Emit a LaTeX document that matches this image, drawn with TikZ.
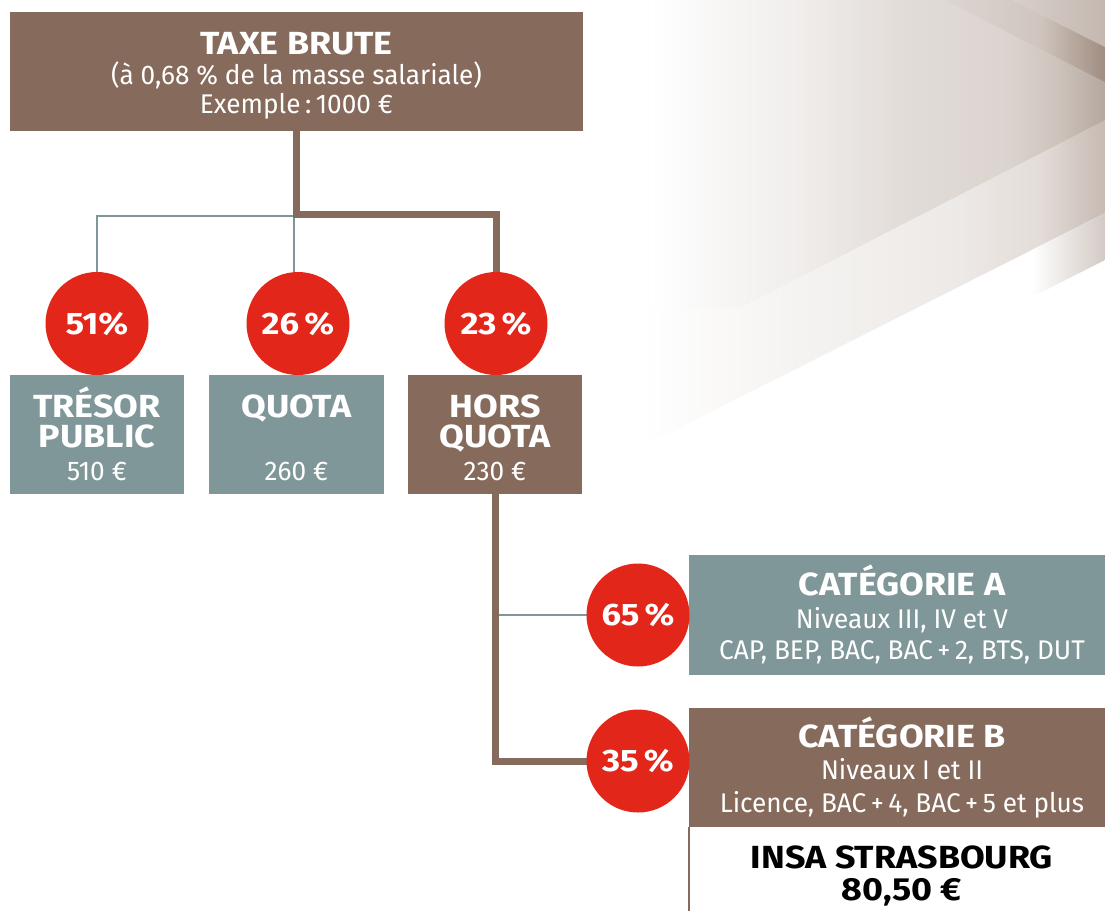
\documentclass[tikz,border=0pt]{standalone}
\usepackage{fontspec}
\setmainfont{Fira Sans}
\newfontfamily\rgfont{Fira Sans}[FakeStretch=0.97]
\newfontfamily\bdfont{Fira Sans}[FakeStretch=1.12]
\definecolor{brownc}{HTML}{866B5C}
\definecolor{grayc}{HTML}{7F9799}
\definecolor{redc}{HTML}{E3261A}
% band A
\definecolor{aA}{HTML}{F5F3F1}
\definecolor{aB}{HTML}{EDE9E6}
\definecolor{aC}{HTML}{E3DCD8}
\definecolor{aD}{HTML}{C6BAB2}
% region B
\definecolor{bA}{HTML}{F0EDEB}
\definecolor{bB}{HTML}{E2DCD8}
\definecolor{bC}{HTML}{DBD3CE}
\definecolor{bD}{HTML}{CCC2BB}
\definecolor{bE}{HTML}{B4A79E}
% stripes
\definecolor{sA}{HTML}{DDD6D1}
\definecolor{sB}{HTML}{CFC5BE}
\definecolor{sC}{HTML}{A08C80}
\definecolor{kA}{HTML}{D8D0CB}
\definecolor{kB}{HTML}{C4B8B0}
\definecolor{dA}{HTML}{D2C9C3}
\pgfdeclarelayer{bgart}
\pgfdeclarelayer{bglines}
\pgfsetlayers{bgart,bglines,main}
\newcommand\hgrad[6]{\shade[left color=#3, right color=#4] (#1,#5) rectangle (#2,#6);}
\begin{document}
\begin{tikzpicture}[x=1pt,y=-1pt,
  boxb/.style={fill=brownc, inner sep=0, minimum height=119pt},
  boxg/.style={fill=grayc, inner sep=0, minimum height=119pt},
  pct/.style={circle, fill=redc, minimum size=103pt, inner sep=0, text=white,
    font=\bdfont\bfseries\fontsize{31}{33}\selectfont},
  hd/.style={anchor=base, inner sep=0, text=white, font=\bdfont\bfseries\fontsize{32}{34}\selectfont},
  hdk/.style={hd, text=black},
  rg/.style={anchor=base, inner sep=0, text=white, font=\rgfont\fontsize{27}{30}\selectfont},
  trunk/.style={draw=brownc, line width=7pt},
  twig/.style={draw=grayc, line width=2pt}]
\useasboundingbox (0,0) rectangle (1105,911);

% ---------- decorative background ----------
\begin{pgfonlayer}{bgart}
  % band above L1
  \begin{scope}
    \clip (560,0) -- (1105,0) -- (1105,213) -- (560,488) -- cycle;
    \hgrad{640}{800.5}{white}{aA}{0}{500}
    \hgrad{800}{960.5}{aA}{aB}{0}{500}
    \hgrad{960}{1040.5}{aB}{aC}{0}{500}
    \hgrad{1040}{1106}{aC}{aD}{0}{500}
  \end{scope}
  % upper region above L2
  \begin{scope}
    \clip (650,0) -- (1105,0) -- (1105,120) -- (740,308) -- (650,308) -- cycle;
    \hgrad{650}{800.5}{white}{bA}{0}{320}
    \hgrad{800}{905.5}{bA}{bB}{0}{320}
    \hgrad{905}{1010.5}{bB}{bC}{0}{320}
    \hgrad{1010}{1060.5}{bC}{bD}{0}{320}
    \hgrad{1060}{1106}{bD}{bE}{0}{320}
  \end{scope}
  % dark stripe
  \begin{scope}
    \clip (945,0) -- (1012,0) -- (1105,47) -- (1105,82) -- cycle;
    \hgrad{945}{1040.5}{sA}{sB}{0}{90}
    \hgrad{1040}{1106}{sB}{sC}{0}{90}
  \end{scope}
  % top corner
  \begin{scope}
    \clip (1012,0) -- (1105,0) -- (1105,47) -- cycle;
    \hgrad{1012}{1106}{kA}{kB}{0}{50}
  \end{scope}
  % small lower band
  \begin{scope}
    \clip (1032,250) -- (1105,213) -- (1105,260) -- (1032,297) -- cycle;
    \hgrad{1032}{1106}{white}{dA}{200}{300}
  \end{scope}
\end{pgfonlayer}

% ---------- boxes ----------
\node[boxb, minimum width=573pt] (tb) at (296.5,71.5) {};
\node[boxg, minimum width=174pt] (tp) at (97,434.5) {};
\node[boxg, minimum width=175pt] (qu) at (296.5,434.5) {};
\node[boxb, minimum width=174pt] (hq) at (495,434.5) {};
\node[boxg, minimum width=416pt, minimum height=120pt] (ca) at (897,615) {};
\node[boxb, minimum width=416pt] (cb) at (897,767.5) {};
\node[fill=white, inner sep=0, minimum width=416pt, minimum height=84pt] (insa) at (897,869) {};

% ---------- circles ----------
\node[pct] (c51) at (97,323.5) {51\%};
\node[pct] (c26) at (298,323.5) {26\,\%};
\node[pct] (c23) at (496,323.5) {23\,\%};
\node[pct] (c65) at (638,615) {65\,\%};
\node[pct] (c35) at (638,761) {35\,\%};

% ---------- connectors ----------
\begin{pgfonlayer}{bglines}
  \coordinate (jt) at (297,216);
  \coordinate (jq) at (294,216);
  \draw[twig] (jt) -| (c51.center);
  \draw[twig] (jq) -- (jq |- c26.center);
  \draw[trunk] (tb.south) -- ++(0,83) -| (c23.center);
  \draw[twig] (hq.south |- c65) -- (c65.center);
  \draw[trunk] (hq.south) |- (c35.center);
\end{pgfonlayer}
\draw[draw=brownc, line width=2pt] (insa.north west) -- (insa.south west);

% ---------- texts ----------
\node[hd] (t1) at (296.5,54) {TAXE BRUTE};
\node[rg] (t2) at (296.5,84) {(à 0,68 \% de la masse salariale)};
\node[rg] (t3) at (296.5,113) {Exemple\,:\,1000 €};

\node[hd] (p1) at (97,417) {TRÉSOR};
\node[hd] (p2) at (97,447) {PUBLIC};
\node[rg] (p3) at (97,480) {510 €};

\node[hd] (q1) at (296.5,417) {QUOTA};
\node[rg] (q3) at (296.5,480) {260 €};

\node[hd] (h1) at (495,417) {HORS};
\node[hd] (h2) at (495,447) {QUOTA};
\node[rg] (h3) at (495,480) {230 €};

\node[hd] (a1) at (902,595) {CATÉGORIE A};
\node[rg] (a2) at (902,628) {Niveaux III, IV et V};
\node[rg] (a3) at (902,659) {CAP, BEP, BAC, BAC\,+\,2, BTS, DUT};

\node[hd] (b1) at (902,747) {CATÉGORIE B};
\node[rg] (b2) at (902,779) {Niveaux I et II};
\node[rg] (b3) at (902,812) {Licence, BAC\,+\,4, BAC\,+\,5 et plus};

\node[hdk] (i1) at (902,868) {INSA STRASBOURG};
\node[hdk] (i2) at (902,900) {80,50 €};
\end{tikzpicture}
\end{document}
